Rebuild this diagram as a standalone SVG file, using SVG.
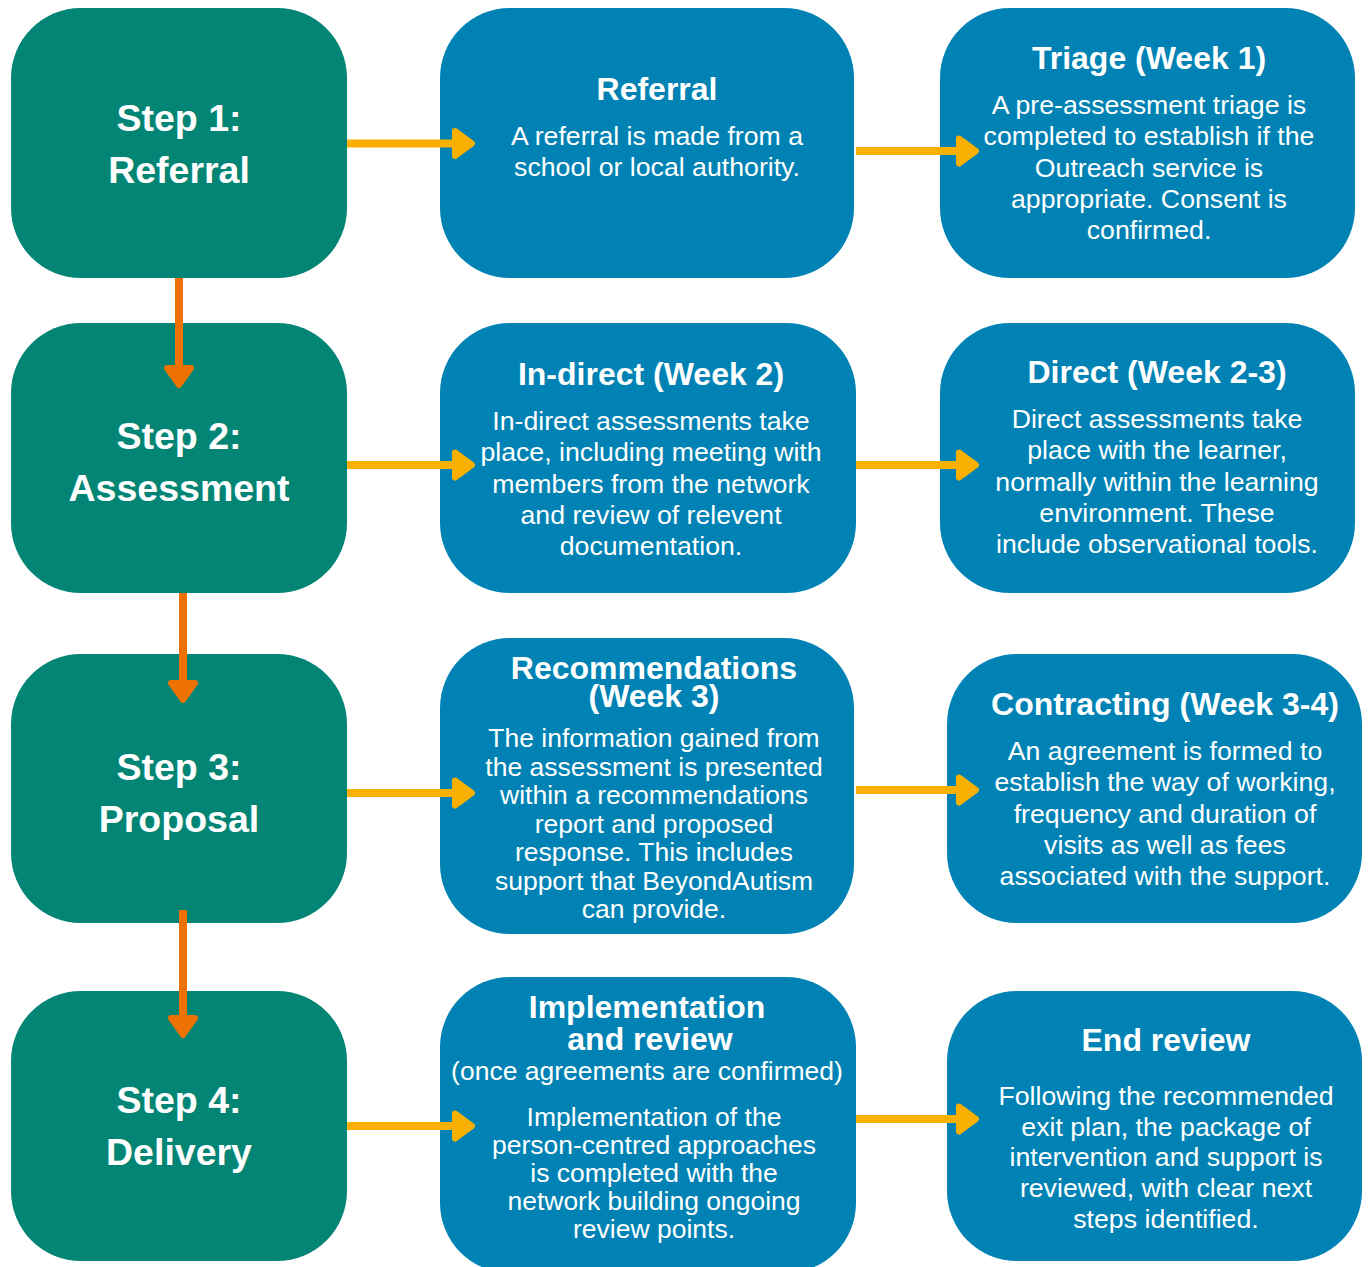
<svg xmlns="http://www.w3.org/2000/svg" width="1368" height="1267" viewBox="0 0 1368 1267">
<style>
.g{fill:#038575}
.b{fill:#0083B4}
.st{font-family:"Liberation Sans",Arial,sans-serif;font-weight:bold;font-size:37.5px;fill:#fff;text-anchor:middle}
.t{font-family:"Liberation Sans",Arial,sans-serif;font-weight:bold;font-size:32px;fill:#fff;text-anchor:middle}
.x{font-family:"Liberation Sans",Arial,sans-serif;font-size:26.7px;fill:#fff;text-anchor:middle}
.x2{font-family:"Liberation Sans",Arial,sans-serif;font-size:26.5px;fill:#fff;text-anchor:middle}
.ya{stroke:#F9B000;stroke-width:8;fill:none}
.yh{fill:#F9B000;stroke:#F9B000;stroke-width:6;stroke-linejoin:round}
.oa{stroke:#EE7203;stroke-width:8;fill:none}
.oh{fill:#EE7203;stroke:#EE7203;stroke-width:6;stroke-linejoin:round}
</style>
<rect width="1368" height="1267" fill="#fff"/>
<g id="step1"><rect class="g" x="11" y="8" width="336" height="270" rx="70"/><text class="st" x="179" y="131">Step 1:</text><text class="st" x="179" y="183">Referral</text></g>
<g id="step2"><rect class="g" x="11" y="323" width="336" height="270" rx="70"/><text class="st" x="179" y="449">Step 2:</text><text class="st" x="179" y="501">Assessment</text></g>
<g id="step3"><rect class="g" x="11" y="654" width="336" height="269" rx="70"/><text class="st" x="179" y="780">Step 3:</text><text class="st" x="179" y="832">Proposal</text></g>
<g id="step4"><rect class="g" x="11" y="991" width="336" height="270" rx="70"/><text class="st" x="179" y="1113">Step 4:</text><text class="st" x="179" y="1165">Delivery</text></g>

<g id="referral"><rect class="b" x="440" y="8" width="414" height="270" rx="70"/><text class="t" x="657" y="100">Referral</text><text class="x" x="657" y="145">A referral is made from a</text><text class="x" x="657" y="176">school or local authority.</text></g>
<g id="triage"><rect class="b" x="940" y="8" width="415" height="270" rx="70"/><text class="t" x="1149" y="69">Triage (Week 1)</text><text class="x" x="1149" y="114">A pre-assessment triage is</text><text class="x" x="1149" y="145">completed to establish if the</text><text class="x" x="1149" y="177">Outreach service is</text><text class="x" x="1149" y="208">appropriate. Consent is</text><text class="x" x="1149" y="239">confirmed.</text></g>

<g id="indirect"><rect class="b" x="440" y="323" width="416" height="270" rx="70"/><text class="t" x="651" y="385">In-direct (Week 2)</text><text class="x" x="651" y="430">In-direct assessments take</text><text class="x" x="651" y="461">place, including meeting with</text><text class="x" x="651" y="493">members from the network</text><text class="x" x="651" y="524">and review of relevent</text><text class="x" x="651" y="555">documentation.</text></g>
<g id="direct"><rect class="b" x="940" y="323" width="415" height="270" rx="70"/><text class="t" x="1157" y="383">Direct (Week 2-3)</text><text class="x" x="1157" y="428">Direct assessments take</text><text class="x" x="1157" y="459">place with the learner,</text><text class="x" x="1157" y="491">normally within the learning</text><text class="x" x="1157" y="522">environment. These</text><text class="x" x="1157" y="553">include observational tools.</text></g>

<g id="recommendations"><rect class="b" x="440" y="638" width="414" height="296" rx="70"/><text class="t" x="654" y="679">Recommendations</text><text class="t" x="654" y="707">(Week 3)</text><text class="x2" x="654" y="747">The information gained from</text><text class="x2" x="654" y="776">the assessment is presented</text><text class="x2" x="654" y="804">within a recommendations</text><text class="x2" x="654" y="833">report and proposed</text><text class="x2" x="654" y="861">response. This includes</text><text class="x2" x="654" y="890">support that BeyondAutism</text><text class="x2" x="654" y="918">can provide.</text></g>
<g id="contracting"><rect class="b" x="947" y="654" width="415" height="269" rx="70"/><text class="t" x="1165" y="715">Contracting (Week 3-4)</text><text class="x" x="1165" y="760">An agreement is formed to</text><text class="x" x="1165" y="791">establish the way of working,</text><text class="x" x="1165" y="823">frequency and duration of</text><text class="x" x="1165" y="854">visits as well as fees</text><text class="x" x="1165" y="885">associated with the support.</text></g>

<g id="implementation"><rect class="b" x="440" y="977" width="416" height="296" rx="70"/><text class="t" x="647" y="1018">Implementation</text><text class="t" x="650" y="1050">and review</text><text class="x2" x="647" y="1080">(once agreements are confirmed)</text><text class="x2" x="654" y="1126">Implementation of the</text><text class="x2" x="654" y="1154">person-centred approaches</text><text class="x2" x="654" y="1182">is completed with the</text><text class="x2" x="654" y="1210">network building ongoing</text><text class="x2" x="654" y="1238">review points.</text></g>
<g id="endreview"><rect class="b" x="947" y="991" width="415" height="270" rx="70"/><text class="t" x="1166" y="1051">End review</text><text class="x" x="1166" y="1105">Following the recommended</text><text class="x" x="1166" y="1136">exit plan, the package of</text><text class="x" x="1166" y="1166">intervention and support is</text><text class="x" x="1166" y="1197">reviewed, with clear next</text><text class="x" x="1166" y="1228">steps identified.</text></g>

<g id="connectors">
<line class="ya" x1="347" y1="143.5" x2="458" y2="143.5"/><polygon class="yh" points="455,131 472,143.5 455,156"/>
<line class="ya" x1="856" y1="151" x2="962" y2="151"/><polygon class="yh" points="959,138.5 976,151 959,163.5"/>
<line class="ya" x1="347" y1="465" x2="458" y2="465"/><polygon class="yh" points="455,452.5 472,465 455,477.5"/>
<line class="ya" x1="856" y1="465" x2="962" y2="465"/><polygon class="yh" points="959,452.5 976,465 959,477.5"/>
<line class="ya" x1="347" y1="793" x2="458" y2="793"/><polygon class="yh" points="455,780.5 472,793 455,805.5"/>
<line class="ya" x1="856" y1="790" x2="962" y2="790"/><polygon class="yh" points="959,777.5 976,790 959,802.5"/>
<line class="ya" x1="347" y1="1126" x2="458" y2="1126"/><polygon class="yh" points="455,1113.5 472,1126 455,1138.5"/>
<line class="ya" x1="856" y1="1119" x2="962" y2="1119"/><polygon class="yh" points="959,1106.5 976,1119 959,1131.5"/>
<line class="oa" x1="179" y1="278" x2="179" y2="370"/><polygon class="oh" points="167,368 191,368 179,385"/>
<line class="oa" x1="183" y1="593" x2="183" y2="685"/><polygon class="oh" points="171,683 195,683 183,700"/>
<line class="oa" x1="183" y1="910" x2="183" y2="1020"/><polygon class="oh" points="171,1018 195,1018 183,1035"/>
</g>
</svg>
